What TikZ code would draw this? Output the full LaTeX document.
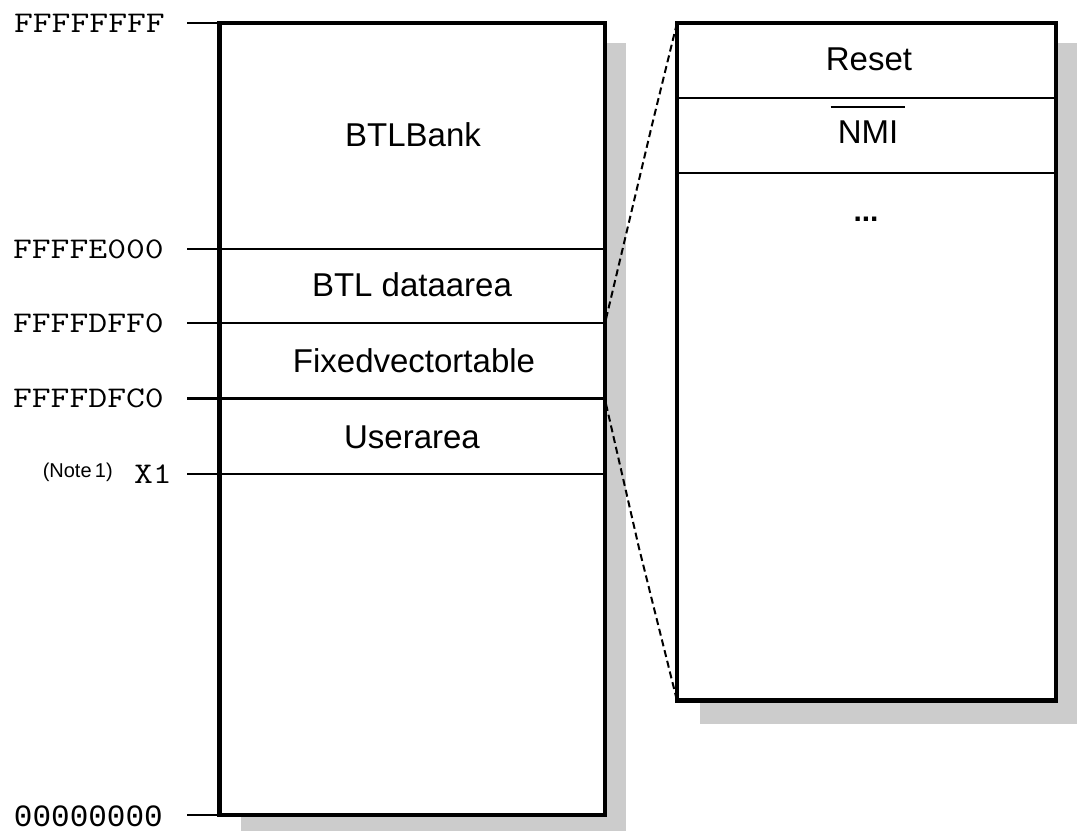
\documentclass[tikz,border=0pt]{standalone}
\usepackage{fontspec}
\usepackage{graphicx}
\setmainfont{Liberation Sans}
\newfontfamily\zerofont{Liberation Mono}
\usetikzlibrary{calc}
\definecolor{shadowgray}{HTML}{CCCCCC}
\tikzset{
  shadowbox/.style={fill=shadowgray, draw=none},
  frame/.style={draw, fill=white, line width=4.5pt, inner sep=0pt, outer sep=0pt},
  rule/.style={line width=2.2pt},
  zoomline/.style={line width=2pt, dash pattern=on 7pt off 4pt},
  area/.style={anchor=base, inner sep=0pt, font=\fontsize{33}{37}\selectfont},
  addr/.style={anchor=base east, inner sep=0pt, font=\fontsize{30}{34}\selectfont\ttfamily},
  note/.style={anchor=base east, inner sep=0pt, font=\fontsize{20}{24}\selectfont},
}
\newcommand{\wide}[1]{\scalebox{1.22}[1]{#1}}
\begin{document}
\begin{tikzpicture}[x=1pt, y=-1pt]
  \useasboundingbox (0,0) rectangle (1077,831);

  % drop shadows
  \fill[shadowbox] (241,43) rectangle (626,831);
  \fill[shadowbox] (700,43) rectangle (1077,724);

  % memory map and vector table frames
  \node[frame, minimum width=385.5pt, minimum height=792pt] (mem) at (412.25,419) {};
  \node[frame, minimum width=379pt, minimum height=677.5pt] (vec) at (866.5,361.75) {};

  % address ticks
  \coordinate (tTop)  at (187,23);
  \coordinate (tE000) at (187,249);
  \coordinate (tDFF0) at (187,323);
  \coordinate (tDFC0) at (187,398.5);
  \coordinate (tX1)   at (187,474);
  \coordinate (tBot)  at (187,815);

  \draw[rule] (tTop) -- (tTop -| mem.west);
  \draw[rule] (tBot) -- (tBot -| mem.west);
  \draw[rule] (tE000) -- (tE000 -| mem.east);
  \draw[rule] (tDFF0) -- (tDFF0 -| mem.east);
  \draw[rule] (tDFC0) -- (tDFC0 -| mem.east);
  \draw[rule] (tX1) -- (tX1 -| mem.east);

  % vector table dividers
  \coordinate (vReset) at (677,97.7);
  \coordinate (vNmi)   at (677,173.3);
  \draw[rule] (vReset) -- (vReset -| vec.east);
  \draw[rule] (vNmi) -- (vNmi -| vec.east);

  % address labels
  \node[addr] (aTop)  at (165,32)    {\wide{FFFFFFFF}};
  \node[addr] (aE000) at (164,258.3) {\wide{FFFFE000}};
  \node[addr] (aDFF0) at (164,332.3) {\wide{FFFFDFF0}};
  \node[addr] (aDFC0) at (164,407.8) {\wide{FFFFDFC0}};
  \node[addr] (aX1)   at (172,483)   {\wide{X1}};
  \node[note] (n1)    at (113,477)   {(Note\,1)};
  \node[addr, font=\fontsize{31}{34}\selectfont\zerofont] (aBot) at (163,826) {00000000};

  % area names
  \node[area] (bank)  at (413,146)   {BTLBank};
  \node[area] (data)  at (412,296.7) {BTL dataarea};
  \node[area] (fixed) at (414,372.7) {Fixedvectortable};
  \node[area] (user)  at (412,448.5) {Userarea};

  % vector table entries
  \node[area] (reset) at (869,70)  {Reset};
  \node[area] (nmi)   at (868,143) {NMI};
  \draw[line width=1.8pt] ($(nmi.north west)+(-7,-13)$) -- ($(nmi.north east)+(7,-13)$);
  \node[area, font=\bfseries\fontsize{30}{34}\selectfont] (more) at (866,221) {...};

  % zoom-out guides from the fixed vector table
  \coordinate (zTop) at (606,319);
  \coordinate (zBot) at (606,404);
  \draw[zoomline] (zTop) -- (652,125) -- (vec.north west);
  \draw[zoomline] (zBot) -- (639,548) -- (vec.south west);
\end{tikzpicture}
\end{document}
